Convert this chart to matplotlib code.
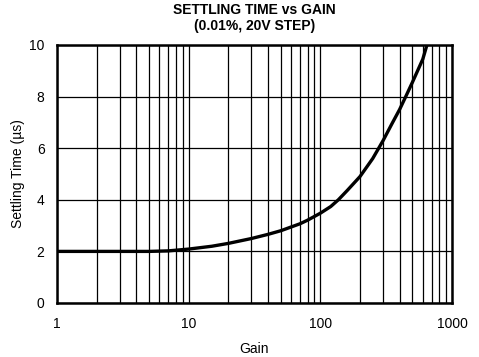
import matplotlib
matplotlib.use("Agg")
import matplotlib.pyplot as plt
from matplotlib.ticker import LogLocator, NullFormatter, FixedLocator, FixedFormatter

plt.rcParams['font.family'] = ['Liberation Sans', 'DejaVu Sans']

gain = [1, 5, 7, 10, 15, 20, 30, 40, 50, 70, 80, 100, 120, 137, 160, 200, 250,
        300, 350, 400, 450, 500, 600, 645]
settling_us = [2.0, 2.0, 2.02, 2.09, 2.2, 2.31, 2.5, 2.66, 2.8, 3.07, 3.21, 3.48,
               3.74, 4.0, 4.36, 4.9, 5.6, 6.3, 6.95, 7.5, 8.05, 8.55, 9.45, 10.0]

x_ticks = [1, 10, 100, 1000]
x_tick_labels = ["1", "10", "100", "1000"]
y_ticks = [0, 2, 4, 6, 8, 10]

fig = plt.figure(figsize=(4.79, 3.57), dpi=100)
ax = fig.add_axes([57/479, 54/357, (452-57)/479, (303-45)/357])

ax.set_xscale('log')
ax.set_xlim(1, 1000)
ax.set_ylim(0, 10)

ax.plot(gain, settling_us, color='black', lw=2.4, solid_capstyle='butt',
        solid_joinstyle='round')

ax.xaxis.set_major_locator(FixedLocator(x_ticks))
ax.xaxis.set_major_formatter(FixedFormatter(x_tick_labels))
ax.xaxis.set_minor_locator(LogLocator(base=10, subs=range(2, 10), numticks=20))
ax.xaxis.set_minor_formatter(NullFormatter())
ax.set_yticks(y_ticks)

ax.grid(True, which='both', axis='x', color='black', lw=0.9)
ax.grid(True, which='major', axis='y', color='black', lw=0.9)
ax.tick_params(axis='x', which='both', length=0, labelsize=10, pad=10)
ax.tick_params(axis='y', which='both', length=0, labelsize=10, pad=9)
for s in ax.spines.values():
    s.set_linewidth(1.8)

ax.set_xlabel("Gain", fontsize=10, labelpad=8)
ax.set_ylabel("Settling Time (\u00b5s)", fontsize=10, labelpad=3)
ax.set_title("SETTLING TIME vs GAIN\n(0.01%, 20V STEP)", fontsize=10,
             fontweight='bold', pad=11, linespacing=1.15)

fig.savefig("out.png", dpi=100)
